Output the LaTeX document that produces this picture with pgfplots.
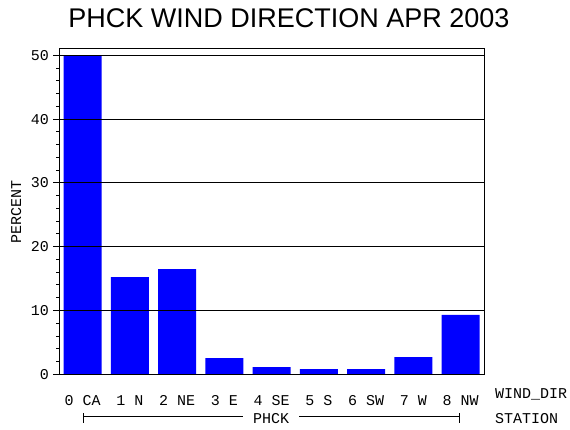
\documentclass[border=0pt]{standalone}
\usepackage{fontspec}
\setmainfont{Liberation Sans}
\newfontfamily\monofont{Liberation Mono}
\usepackage{pgfplots}
\pgfplotsset{compat=1.18}
\newcommand{\ticfont}{\monofont\fontsize{15}{18}\selectfont}

\begin{document}
\begin{tikzpicture}
\path[use as bounding box] (0pt,0pt) rectangle (570pt,430pt);

\begin{axis}[
    at={(59pt,55.7pt)}, anchor=south west,
    scale only axis,
    width=425.3pt, height=325.3pt,
    xmin=-0.5, xmax=8.5,
    ymin=0, ymax=51,
    axis on top,
    axis line style={line width=1pt},
    xtick={0,1,...,8},
    xticklabels={0 CA, 1 N, 2 NE, 3 E, 4 SE, 5 S, 6 SW, 7 W, 8 NW},
    x tick style={draw=none},
    xticklabel style={font=\ticfont, anchor=base, inner sep=0pt, yshift=-25pt},
    ytick={0,10,...,50},
    minor y tick num=4,
    ytick pos=left,
    tick align=outside,
    major tick length=6pt,
    minor tick length=3pt,
    y tick style={line width=1pt, black},
    yticklabel style={font=\ticfont, anchor=east, inner sep=0pt, xshift=-4pt},
    /pgf/number format/assume math mode=true,
    ymajorgrids,
    grid style={line width=1pt, black},
    clip=false,
]
\addplot[ybar, bar width=38pt, fill=blue, draw=none] coordinates {
    (0, 50.0)
    (1, 15.25)
    (2, 16.5)
    (3, 2.55)
    (4, 1.14)
    (5, 0.83)
    (6, 0.83)
    (7, 2.7)
    (8, 9.3)
};
\end{axis}

% title
\node[anchor=base, font=\fontsize{27}{31}\selectfont, inner sep=0pt] at (289pt,402pt)
    {PHCK WIND DIRECTION APR 2003};

% y label
\node[anchor=base, rotate=90, font=\ticfont, inner sep=0pt] at (21pt,218pt) {PERCENT};

% x axis variable names
\node[anchor=base west, font=\ticfont, inner sep=0pt] at (495pt,31pt) {WIND\_DIR};
\node[anchor=base west, font=\ticfont, inner sep=0pt] at (495pt,6pt) {STATION};

% station bracket
\draw[line width=1pt] (83.3pt,13pt) -- (243pt,13pt);
\draw[line width=1pt] (299pt,13pt) -- (459.3pt,13pt);
\draw[line width=1pt] (83.3pt,7.3pt) -- (83.3pt,17.3pt);
\draw[line width=1pt] (459.3pt,7.3pt) -- (459.3pt,17.3pt);
\node[anchor=base, font=\ticfont, inner sep=0pt] at (271pt,6pt) {PHCK};
\end{tikzpicture}
\end{document}
